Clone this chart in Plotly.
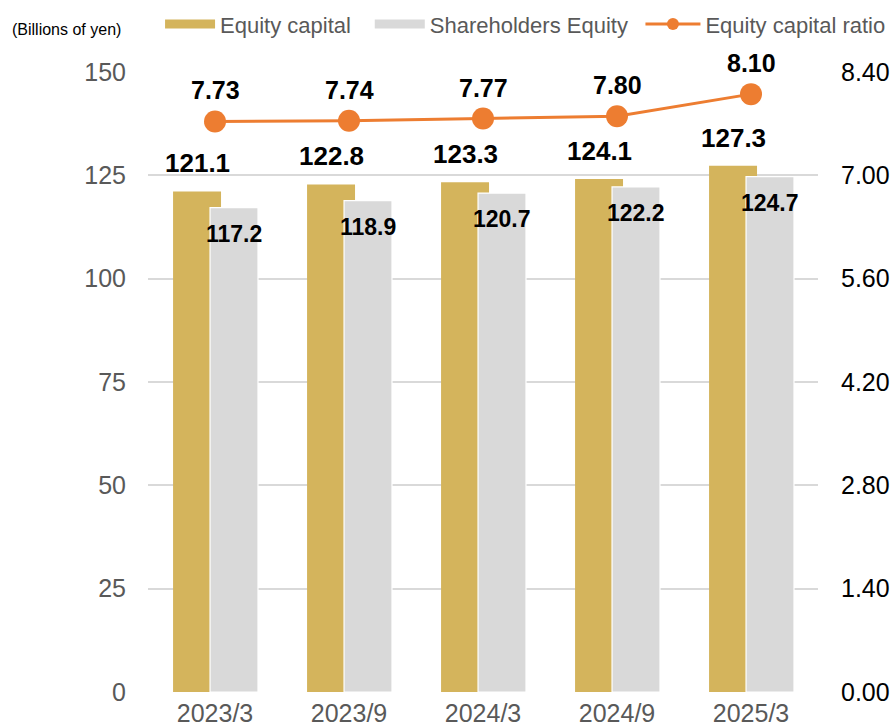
import plotly.graph_objects as go

categories = ["2023/3", "2023/9", "2024/3", "2024/9", "2025/3"]
equity_capital = [121.1, 122.8, 123.3, 124.1, 127.3]
shareholders_equity = [117.2, 118.9, 120.7, 122.2, 124.7]
equity_ratio = [7.73, 7.74, 7.77, 7.80, 8.10]
left_ticks = [0, 25, 50, 75, 100, 125, 150]
right_ticks = [0.0, 1.4, 2.8, 4.2, 5.6, 7.0, 8.4]

GOLD = "#D4B45C"
GRAY = "#D9D9D9"
ORANGE = "#ED7D31"
FONT = "Liberation Sans, Arial, sans-serif"

fig = go.Figure()

fig.add_trace(go.Bar(
    x=categories, y=equity_capital, name="Equity capital",
    marker=dict(color=GOLD, line=dict(width=0)),
    offset=-0.313, width=0.358, showlegend=False, hoverinfo="x+y",
))
fig.add_trace(go.Bar(
    x=categories, y=shareholders_equity, name="Shareholders Equity",
    marker=dict(color=GRAY, line=dict(color="white", width=1.2)),
    offset=-0.037, width=0.358, showlegend=False, hoverinfo="x+y",
))
fig.add_trace(go.Scatter(
    x=categories, y=equity_ratio, name="Equity capital ratio", yaxis="y2",
    mode="lines+markers", line=dict(color=ORANGE, width=3),
    marker=dict(color=ORANGE, size=22), showlegend=False,
))

# legend entries
fig.add_trace(go.Scatter(x=[None], y=[None], mode="lines", name="Equity capital",
                         line=dict(color=GOLD, width=9), legend="legend"))
fig.add_trace(go.Scatter(x=[None], y=[None], mode="lines", name="Shareholders Equity",
                         line=dict(color=GRAY, width=9), legend="legend2"))
fig.add_trace(go.Scatter(x=[None], y=[None], mode="lines+markers", name="Equity capital ratio",
                         line=dict(color=ORANGE, width=3), marker=dict(color=ORANGE, size=12),
                         legend="legend3"))

annotations = []
for c, v in zip(categories, equity_capital):
    annotations.append(dict(x=c, y=v, xref="x", yref="y", text=f"<b>{v:.1f}</b>",
                            showarrow=False, xshift=-18, yshift=28,
                            font=dict(size=26, color="black", family=FONT)))
for c, v in zip(categories, shareholders_equity):
    annotations.append(dict(x=c, y=v, xref="x", yref="y", text=f"<b>{v:.1f}</b>",
                            showarrow=False, xshift=19, yshift=-26,
                            font=dict(size=23, color="black", family=FONT)))
for c, v in zip(categories, equity_ratio):
    annotations.append(dict(x=c, y=v, xref="x", yref="y2", text=f"<b>{v:.2f}</b>",
                            showarrow=False, yshift=31,
                            font=dict(size=25, color="black", family=FONT)))
annotations.append(dict(x=-0.206, y=1.068, xref="paper", yref="paper", xanchor="left",
                        yanchor="middle", text="(Billions of yen)", showarrow=False,
                        font=dict(size=16, color="black", family=FONT)))

legend_common = dict(orientation="h", xanchor="left", y=1.077, yanchor="middle",
                     font=dict(size=22, color="#595959", family=FONT),
                     bgcolor="rgba(0,0,0,0)")

fig.update_layout(
    width=895, height=727,
    margin=dict(l=148, r=77, t=72, b=35, autoexpand=False),
    plot_bgcolor="white", paper_bgcolor="white",
    barmode="overlay",
    font=dict(family=FONT),
    xaxis=dict(type="category", range=[-0.5, 4.5], showgrid=False, showline=False,
               ticks="", tickfont=dict(size=25, color="#595959"), zeroline=False,
               automargin=False, ticklabelstandoff=4),
    yaxis=dict(range=[0, 150], tickvals=left_ticks, showgrid=True, gridcolor=GRAY,
               gridwidth=1.5, zeroline=False, showline=False, ticks="",
               tickfont=dict(size=25, color="#595959"), ticklabelstandoff=21,
               automargin=False),
    yaxis2=dict(range=[0, 8.4], tickvals=right_ticks, tickformat=".2f", overlaying="y",
                side="right", showgrid=False, zeroline=False, showline=False, ticks="",
                tickfont=dict(size=25, color="black"), ticklabelstandoff=22,
                automargin=False),
    legend=dict(x=0.018, itemwidth=50, **legend_common),
    legend2=dict(x=0.331, itemwidth=50, **legend_common),
    legend3=dict(x=0.735, itemwidth=55, **legend_common),
    annotations=annotations,
)

fig.write_html("out.html", config={"displayModeBar": False},
               post_script="document.body.style.margin='0';")
